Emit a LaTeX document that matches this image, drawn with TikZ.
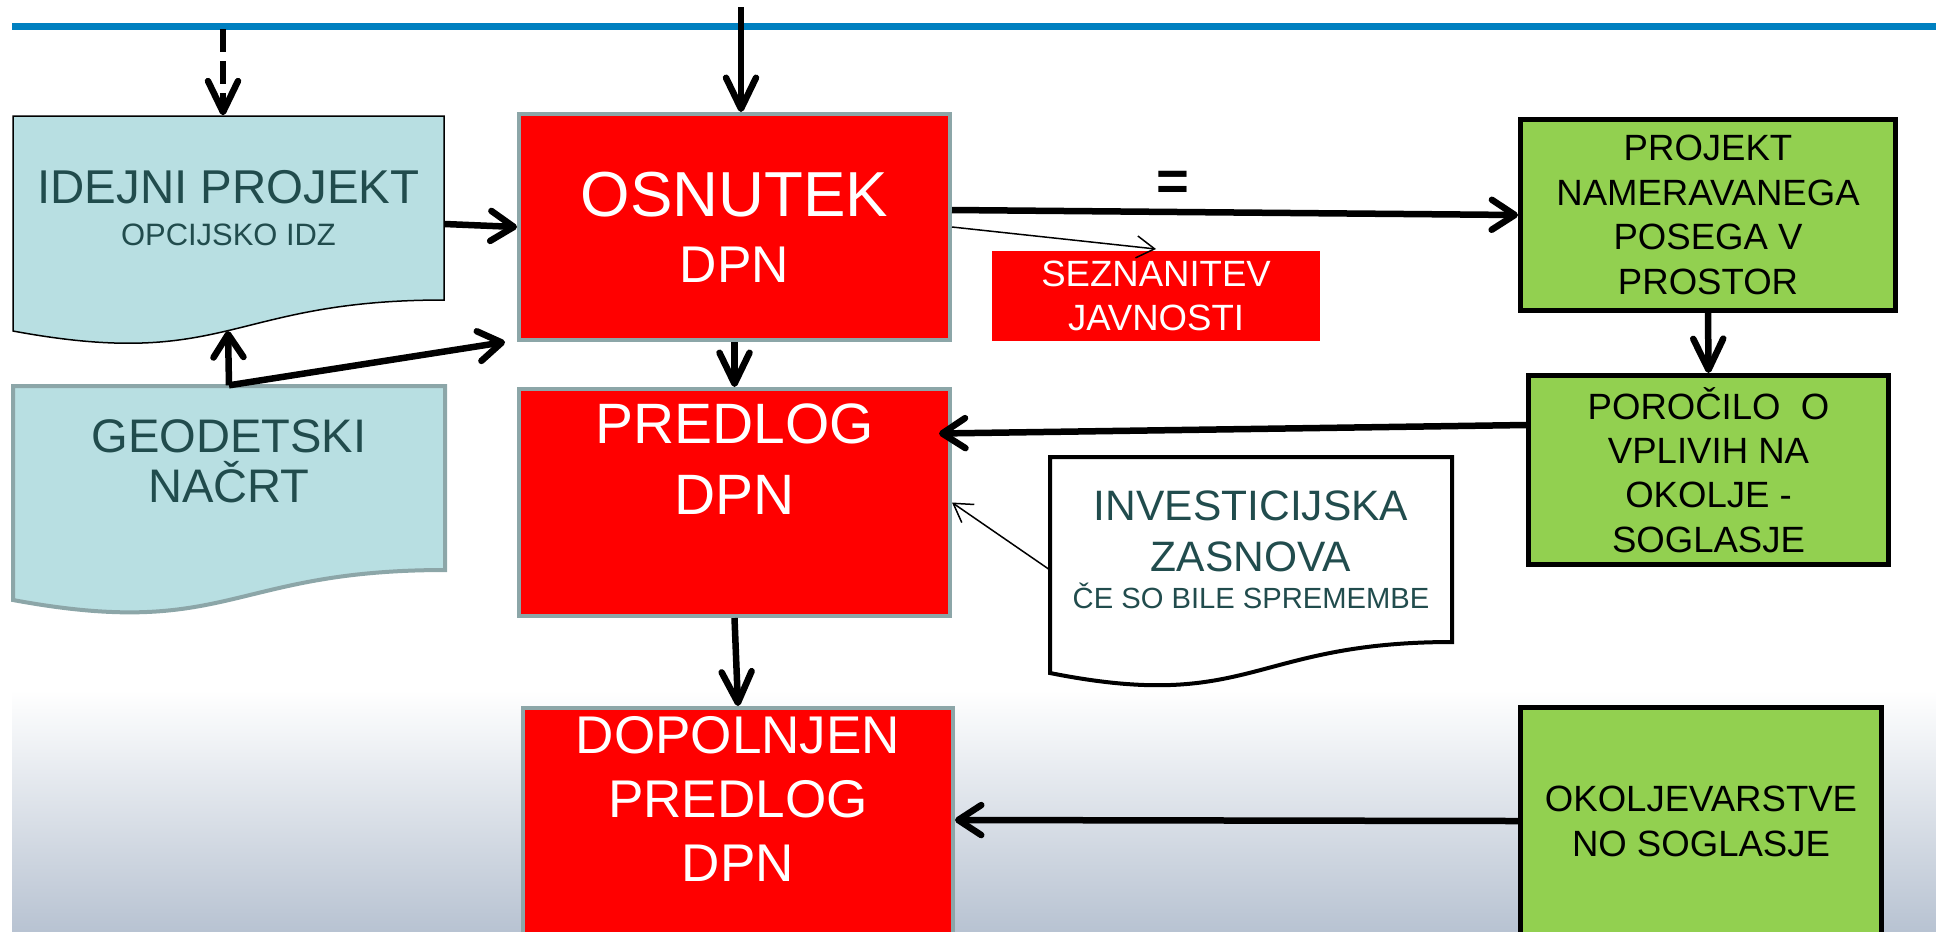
\documentclass[tikz,border=0pt]{standalone}
\usepackage{fontspec}
\setmainfont{Liberation Sans}
\usetikzlibrary{arrows.meta}
\definecolor{dpnred}{RGB}{255,0,0}
\definecolor{dpngreen}{RGB}{146,208,80}
\definecolor{dpnaqua}{RGB}{184,223,226}
\definecolor{dpnframe}{RGB}{140,166,168}
\definecolor{dpnteal}{RGB}{33,76,77}
\definecolor{dpnblue}{RGB}{0,128,192}
\definecolor{dpnfloor}{RGB}{184,195,210}

\begin{document}
\begin{tikzpicture}[x=0.1mm,y=-0.1mm,
  redbox/.style={rectangle,fill=dpnred,draw=dpnframe,line width=0.4mm,text=white,align=center,inner sep=0pt},
  greenbox/.style={rectangle,fill=dpngreen,draw=black,line width=0.5mm,align=center,inner sep=0pt},
  doctext/.style={rectangle,text=dpnteal,align=center,inner sep=0pt},
  eqsign/.style={font=\fontsize{16}{18}\selectfont\bfseries},
  bigarr/.style={line width=0.65mm,-{Straight Barb[length=2.3mm,width=3mm,round]}},
  downarr/.style={line width=0.65mm,-{Straight Barb[length=3.1mm,width=3mm,round]}},
  thinarr/.style={line width=0.15mm,-{Straight Barb[length=1.8mm,width=2.2mm]}}]
\useasboundingbox (0,0) rectangle (1936,931);
\clip (0,0) rectangle (1936,931);
% background and header rule
\shade[top color=white,bottom color=dpnfloor] (12,690) rectangle (1936,931);
\draw[dpnblue,line width=0.7mm] (12,26) -- (1936,26);
% document outlines
\filldraw[fill=dpnaqua,draw=black,line width=0.15mm] (13,116) -- (444,116) -- (444,300)
  .. controls (228.5,300) and (228.5,371) .. (13,331) -- cycle;
\filldraw[fill=dpnaqua,draw=dpnframe,line width=0.4mm] (13,386) -- (445,386) -- (445,570)
  .. controls (229,570) and (229,640) .. (13,600) -- cycle;
\filldraw[fill=white,draw=black,line width=0.4mm] (1050,457) -- (1452,457) -- (1452,642)
  .. controls (1251,642) and (1251,713) .. (1050,673) -- cycle;
% nodes
\node[doctext,minimum width=43.1mm,minimum height=18.4mm,font=\fontsize{13.5}{11.95}\selectfont] (idejni) at (228.5,208)
  {IDEJNI PROJEKT\\{\fontsize{8.8}{10}\selectfont OPCIJSKO IDZ}};
\node[doctext,minimum width=43.2mm,minimum height=18.4mm,text depth=3.4mm,font=\fontsize{13.4}{14.2}\selectfont] (geodetski) at (229,478)
  {GEODETSKI\\NAČRT};
\node[doctext,minimum width=40.2mm,minimum height=18.5mm,font=\fontsize{12.1}{14.5}\selectfont] (invest) at (1251,549.5)
  {INVESTICIJSKA\\ZASNOVA\\[-4pt]{\fontsize{8.3}{10}\selectfont ČE SO BILE SPREMEMBE}};
\node[redbox,minimum width=43.1mm,minimum height=22.6mm,font=\fontsize{18.1}{18.8}\selectfont] (osnutek) at (734.5,227)
  {OSNUTEK\\{\fontsize{14.7}{15}\selectfont DPN}};
\node[redbox,minimum width=43.1mm,minimum height=22.7mm,text depth=8.7mm,font=\fontsize{16.2}{20.2}\selectfont] (predlog) at (734.5,502.5)
  {PREDLOG\\DPN};
\node[redbox,minimum width=43mm,minimum height=25.2mm,text depth=7.1mm,font=\fontsize{15.1}{18.2}\selectfont] (dopolnjen) at (738,834)
  {DOPOLNJEN\\PREDLOG\\DPN};
\node[redbox,draw=none,minimum width=32.8mm,minimum height=9mm,font=\fontsize{10.4}{12.5}\selectfont] (javnost) at (1156,296)
  {SEZNANITEV\\JAVNOSTI};
\node[greenbox,minimum width=37.5mm,minimum height=19.1mm,font=\fontsize{10.4}{12.66}\selectfont] (projekt) at (1708,215)
  {PROJEKT\\NAMERAVANEGA\\POSEGA V\\PROSTOR};
\node[greenbox,minimum width=36mm,minimum height=18.9mm,font=\fontsize{10.4}{12.6}\selectfont] (porocilo) at (1708.5,470)
  {POROČILO\ \ O\\VPLIVIH NA\\OKOLJE -\\SOGLASJE};
\node[greenbox,minimum width=36.1mm,minimum height=22.75mm,font=\fontsize{10.4}{12.8}\selectfont] (okolje) at (1701,821)
  {OKOLJEVARSTVE\\NO SOGLASJE};
% free ends
\coordinate (topin) at (741,7);
\coordinate (dashin) at (223,29);
\coordinate (idejniwave) at (228,331);
% connectors
\draw[downarr] (topin) -- (topin |- osnutek.north);
\draw[downarr,dash pattern=on 2.3mm off 0.9mm] (dashin) -- (dashin |- idejni.north);
\draw[bigarr] ([yshift=-1.6mm]idejni.east) -- (osnutek.west);
\draw[bigarr] (geodetski.north) -- (idejniwave);
\draw[bigarr] (geodetski.north) -- ([xshift=-1.2mm]osnutek.south west);
\draw[downarr] (osnutek.south) -- (predlog.north);
\draw[bigarr] ([yshift=1.7mm]osnutek.east) -- (projekt.west) node[eqsign,pos=0.39,yshift=2.6mm] {=};
\draw[thinarr] (osnutek.east) -- (javnost.north);
\draw[downarr] (projekt.south) -- (porocilo.north);
\draw[bigarr] ([yshift=4.5mm]porocilo.west) -- ([yshift=6.9mm,xshift=-1.3mm]predlog.east);
\draw[thinarr] ([yshift=-2mm]invest.west) -- (predlog.east);
\draw[downarr] (predlog.south) -- (dopolnjen.north);
\draw[bigarr] (okolje.west) -- ([yshift=1.4mm]dopolnjen.east);
\end{tikzpicture}
\end{document}
